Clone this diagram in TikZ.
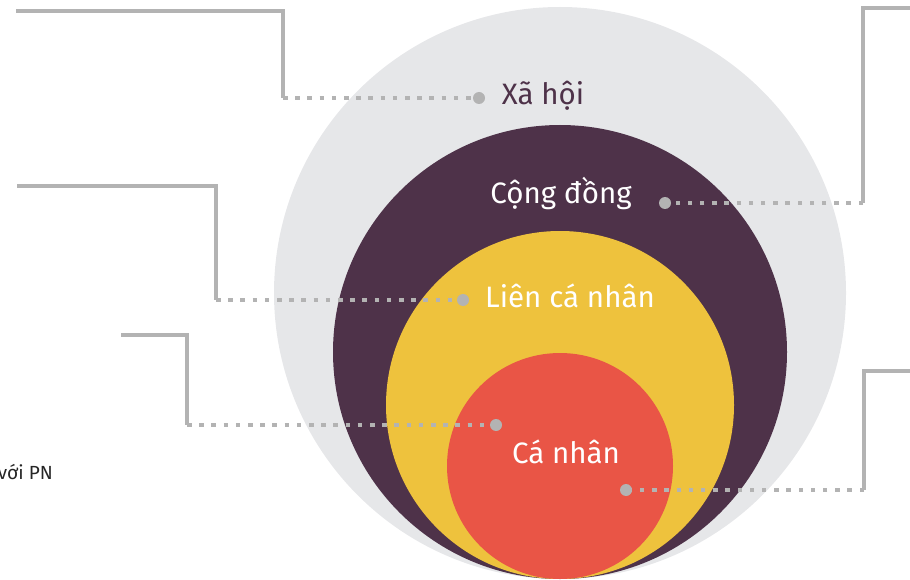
\documentclass[tikz,border=0pt]{standalone}
\usepackage{fontspec}
\setmainfont{Fira Sans}
\definecolor{societygrey}{HTML}{E6E7E9}
\definecolor{plum}{HTML}{4E3249}
\definecolor{mustard}{HTML}{EEC23D}
\definecolor{coral}{HTML}{E95546}
\definecolor{leadergrey}{HTML}{B3B3B3}
\tikzset{
  ring/.style={circle, inner sep=0pt, minimum size=#1},
  ringtext/.style={font=\fontsize{29.5}{32}\selectfont, anchor=base, inner sep=0pt},
  frameline/.style={leadergrey, line width=4pt},
  dotline/.style={leadergrey, line width=4pt, dash pattern=on 4.5pt off 7.7pt},
  pindot/.style={circle, fill=leadergrey, inner sep=0pt, minimum size=12pt},
}
\begin{document}
\begin{tikzpicture}[x=1pt,y=-1pt]
\useasboundingbox (0,0) rectangle (910,580);
% nested levels, all touching at the bottom
\node[ring=572pt, fill=societygrey] (soc) at (560,293) {};
\node[ring=454pt, fill=plum] (com) at (560,352) {};
\node[ring=348pt, fill=mustard] (inter) at (560,405) {};
\node[ring=226pt, fill=coral] (ind) at (560,466) {};
% corners of the leader lines
\coordinate (a1) at (16,11);   \coordinate (k1) at (283,98);
\coordinate (a2) at (17,186);  \coordinate (k2) at (216,300);
\coordinate (a3) at (121,335); \coordinate (k3) at (187,425);
\coordinate (a4) at (910,8);   \coordinate (k4) at (863,203);
\coordinate (a5) at (910,371); \coordinate (k5) at (864,490);
% end dots
\node[pindot] (d1) at (479,98) {};
\node[pindot] (d2) at (463,300) {};
\node[pindot] (d3) at (496,425) {};
\node[pindot] (d4) at (665,203) {};
\node[pindot] (d5) at (626,490) {};
\foreach \i in {1,...,5}{
  \draw[frameline] (a\i) -| (k\i);
  \draw[dotline] (k\i) -- (d\i.center);
}
% labels
\node[ringtext, text=plum] (tsoc) at (543,105) {Xã hội};
\node[ringtext, text=white] (tcom) at (561,204) {Cộng đồng};
\node[ringtext, text=white] (tinter) at (570,307) {Liên cá nhân};
\node[ringtext, text=white] (tind) at (566,463) {Cá nhân};
\node[font=\fontsize{19}{22}\selectfont, anchor=base east, inner sep=0pt, text=black!85] (pn) at (53,479) {với PN};
\end{tikzpicture}
\end{document}
